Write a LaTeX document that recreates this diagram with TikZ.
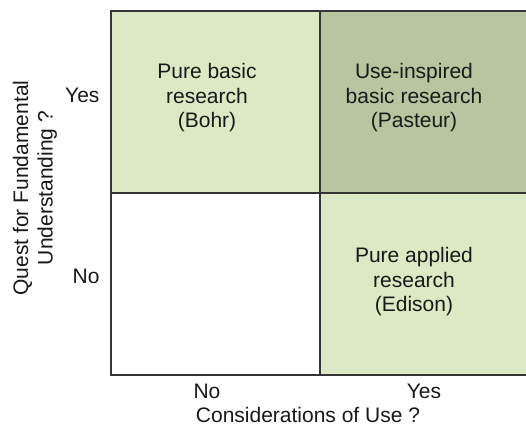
\documentclass[tikz,border=0pt]{standalone}
\usepackage{fontspec}
\setmainfont{Liberation Sans}
\definecolor{paleolive}{HTML}{DDE9C4}
\definecolor{greyolive}{HTML}{B7C5A0}
\definecolor{gridgrey}{HTML}{353535}
\tikzset{
  quadtext/.style={font=\fontsize{21}{24.5}\selectfont, align=center, text=black!90},
  axistext/.style={font=\fontsize{21}{24.5}\selectfont, text=black!90},
  gridline/.style={draw=gridgrey, line width=2pt}
}
\begin{document}
\begin{tikzpicture}[x=1pt,y=-1pt]
      \useasboundingbox (0,0) rectangle (526,425);
      \fill[paleolive] (111,11) rectangle (320,193);
      \fill[greyolive] (320,11) rectangle (528,193);
      \fill[paleolive] (320,193) rectangle (528,375);
      \begin{scope}[gridline]
        \draw (111,11) rectangle (528,375);
        \draw (320,11) -- (320,375);
        \draw (111,193) -- (528,193);
      \end{scope}
      \draw
        (207,98) node[quadtext] (bohr){Pure basic\\research\\(Bohr)}
        (414,98) node[quadtext] (pasteur){Use-inspired\\basic research\\(Pasteur)}
        (414,282) node[quadtext] (edison){Pure applied\\research\\(Edison)}
        (103,102) node[axistext, anchor=base east] (yyes){Yes}
        (103,283) node[axistext, anchor=base east] (yno){No}
        (207,398) node[axistext, anchor=base] (xno){No}
        (424,398) node[axistext, anchor=base] (xyes){Yes}
        (308,422) node[axistext, anchor=base] (xtitle){Considerations of Use ?}
        (35,188) node[quadtext, rotate=90] (ytitle){Quest for Fundamental\\Understanding ?};
\end{tikzpicture}
\end{document}
